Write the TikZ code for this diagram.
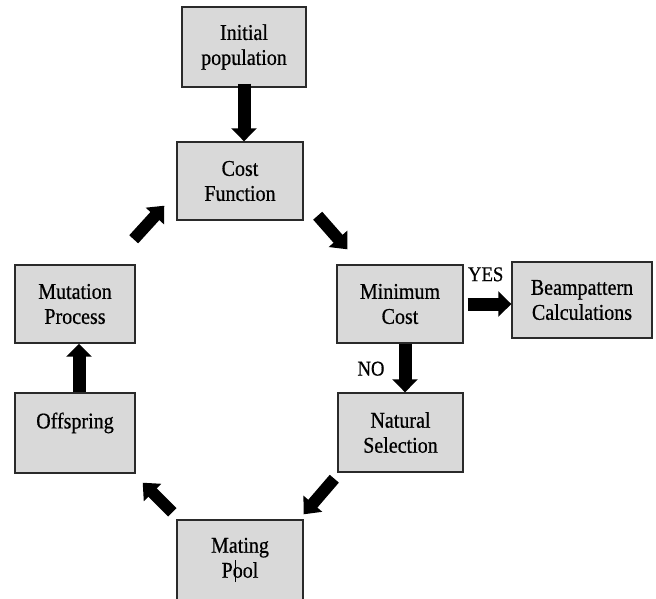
\documentclass[tikz,border=0pt]{standalone}
\usepackage{fontspec}
\setmainfont[FakeStretch=0.89,FakeBold=0.6]{Liberation Serif}
\usetikzlibrary{arrows.meta}
\definecolor{boxgray}{HTML}{D9D9D9}
\definecolor{boxline}{HTML}{2A2A2A}
\begin{document}
\begin{tikzpicture}[x=1pt,y=-1pt,
  box/.style={draw=boxline,line width=1.4pt,fill=boxgray,inner sep=0pt,
    align=center,font=\rmfamily\fontsize{22.5}{25}\selectfont},
  blk/.style={line width=13pt,-{Triangle[width=25pt,length=13pt]}},
  dblk/.style={line width=12pt,-{Triangle[width=24pt,length=14pt]}},
  lbl/.style={inner sep=0pt,font=\rmfamily\fontsize{21}{24}\selectfont}]
\useasboundingbox (0,0) rectangle (656,598);
\node[box,minimum width=124pt,minimum height=80pt] (init) at (244,47) {Initial\\population};
\node[box,minimum width=126pt,minimum height=78pt] (cost) at (240,181) {Cost\\Function};
\node[box,minimum width=126pt,minimum height=78pt] (min) at (400,304) {Minimum\\Cost};
\node[box,minimum width=140pt,minimum height=76pt] (beam) at (582,300) {Beampattern\\Calculations};
\node[box,minimum width=125pt,minimum height=79pt] (nat) at (400.5,432.5) {Natural\\Selection};
\node[box,minimum width=126pt,minimum height=80pt] (mate) at (240,560) {Mating\\P\makebox[0pt][l]{\hspace{0.1em}\rule[-0.2em]{0.7pt}{1.0em}}ool};
\node[box,minimum width=120pt,minimum height=80pt] (off) at (75,433) {Offspring\\\mbox{}};
\node[box,minimum width=120pt,minimum height=78pt] (mut) at (75,304) {Mutation\\Process};
% arrows
\draw[blk] ([yshift=4pt]init.south) -- (init.south |- cost.north);
\draw[dblk] ([shift={(14,-5)}]cost.south east) -- ([shift={(11,-15)}]min.north west);
\draw[blk] ([xshift=4pt]min.east) -- (beam.west |- min.east);
\draw[blk] ([xshift=5pt]min.south) -- ([xshift=5pt]min.south |- nat.north);
\draw[dblk] ([shift={(-3,6)}]nat.south west) -- ([shift={(0,-5)}]mate.north east);
\draw[dblk] ([shift={(-4,-7)}]mate.north west) -- ([shift={(7,9)}]off.south east);
\draw[blk] ([xshift=4pt]off.north) -- ([xshift=4pt]off.north |- mut.south);
\draw[dblk] ([shift={(-2,-25)}]mut.north east) -- ([shift={(-12,-15)}]cost.south west);
% labels
\node[lbl] (yes) at ([shift={(22,10)}]min.north east) {YES};
\node[lbl] (no) at ([shift={(-29,25)}]min.south) {NO};
\end{tikzpicture}
\end{document}
